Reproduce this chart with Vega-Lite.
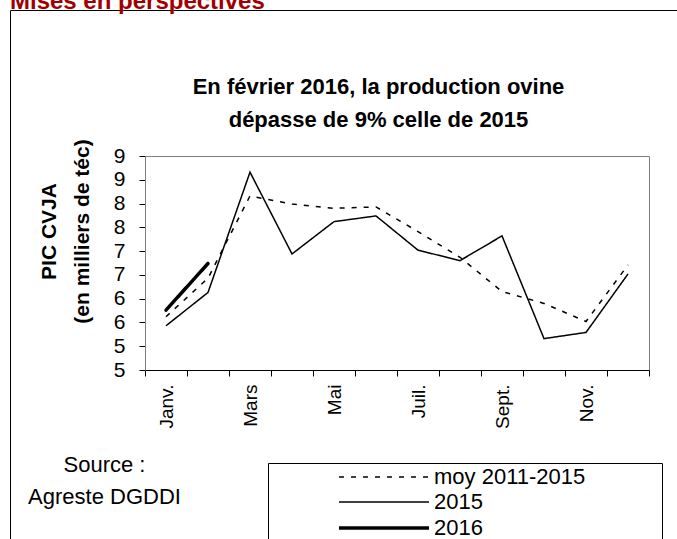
{
  "$schema": "https://vega.github.io/schema/vega-lite/v6.json",
  "width": 504,
  "height": 214,
  "autosize": {"type": "none"},
  "padding": {"left": 145, "top": 156, "right": 28, "bottom": 169},
  "background": "white",
  "title": {
    "text": "Mises en perspectives",
    "anchor": "start",
    "frame": "group",
    "dx": -135,
    "dy": 23,
    "offset": 0,
    "baseline": "alphabetic",
    "font": "Liberation Sans",
    "fontSize": 24,
    "fontWeight": "bold",
    "color": "#a00000"
  },
  "data": {
    "values": [
      {"mois": "Janv.", "serie": "moy 2011-2015", "valeur": 5.62},
      {"mois": "Févr.", "serie": "moy 2011-2015", "valeur": 6.43},
      {"mois": "Mars", "serie": "moy 2011-2015", "valeur": 8.16},
      {"mois": "Avr.", "serie": "moy 2011-2015", "valeur": 7.99},
      {"mois": "Mai", "serie": "moy 2011-2015", "valeur": 7.90},
      {"mois": "Juin", "serie": "moy 2011-2015", "valeur": 7.93},
      {"mois": "Juil.", "serie": "moy 2011-2015", "valeur": 7.41},
      {"mois": "Août", "serie": "moy 2011-2015", "valeur": 6.87},
      {"mois": "Sept.", "serie": "moy 2011-2015", "valeur": 6.15},
      {"mois": "Oct.", "serie": "moy 2011-2015", "valeur": 5.90},
      {"mois": "Nov.", "serie": "moy 2011-2015", "valeur": 5.52},
      {"mois": "Déc.", "serie": "moy 2011-2015", "valeur": 6.71},
      {"mois": "Janv.", "serie": "2015", "valeur": 5.43},
      {"mois": "Févr.", "serie": "2015", "valeur": 6.13},
      {"mois": "Mars", "serie": "2015", "valeur": 8.66},
      {"mois": "Avr.", "serie": "2015", "valeur": 6.94},
      {"mois": "Mai", "serie": "2015", "valeur": 7.62},
      {"mois": "Juin", "serie": "2015", "valeur": 7.74},
      {"mois": "Juil.", "serie": "2015", "valeur": 7.02},
      {"mois": "Août", "serie": "2015", "valeur": 6.80},
      {"mois": "Sept.", "serie": "2015", "valeur": 7.32},
      {"mois": "Oct.", "serie": "2015", "valeur": 5.16},
      {"mois": "Nov.", "serie": "2015", "valeur": 5.29},
      {"mois": "Déc.", "serie": "2015", "valeur": 6.52},
      {"mois": "Janv.", "serie": "2016", "valeur": 5.76},
      {"mois": "Févr.", "serie": "2016", "valeur": 6.74}
    ]
  },
  "resolve": {"axis": {"x": "independent"}},
  "layer": [
    {
      "transform": [{"filter": "datum.serie !== '2016'"}],
      "mark": {"type": "line", "color": "black"},
      "encoding": {
        "x": {
          "field": "mois",
          "type": "ordinal",
          "scale": {"type": "band", "domain": ["Janv.", "Févr.", "Mars", "Avr.", "Mai", "Juin", "Juil.", "Août", "Sept.", "Oct.", "Nov.", "Déc."], "paddingInner": 0, "paddingOuter": 0},
          "axis": {
            "orient": "bottom",
            "title": ["Source :", "Agreste DGDDI"],
            "titleX": -41,
            "titleY": 84,
            "titleAlign": "center",
            "titleAnchor": null,
            "titleBaseline": "top",
            "titleAngle": 0,
            "titleFont": "Liberation Sans",
            "titleFontSize": 22,
            "titleFontWeight": "normal",
            "titleLineHeight": 32,
            "titleColor": "black",
            "labelAngle": -90,
            "labelAlign": "right",
            "labelBaseline": "middle",
            "labelPadding": 8,
            "labelFont": "Liberation Sans",
            "labelFontSize": 19,
            "labelColor": "black",
            "labelOverlap": false,
            "labelExpr": "indexof(['Janv.','Mars','Mai','Juil.','Sept.','Nov.'], datum.value) >= 0 ? datum.value : ''",
            "tickBand": "extent",
            "tickSize": 6,
            "tickColor": "black",
            "domainColor": "black",
            "grid": false
          }
        },
        "y": {
          "field": "valeur",
          "type": "quantitative",
          "scale": {"domain": [4.5, 9], "nice": false, "zero": false},
          "axis": {
            "orient": "left",
            "values": [4.5, 5, 5.5, 6, 6.5, 7, 7.5, 8, 8.5, 9],
            "format": ".0f",
            "title": ["PIC CVJA", "(en milliers de téc)"],
            "titleX": -90,
            "titleY": 75,
            "titleAngle": 270,
            "titleAlign": "center",
            "titleBaseline": "alphabetic",
            "titleFont": "Liberation Sans",
            "titleFontSize": 21,
            "titleFontWeight": "bold",
            "titleLineHeight": 33,
            "titleColor": "black",
            "labelFont": "Liberation Sans",
            "labelFontSize": 21,
            "labelColor": "black",
            "labelPadding": 14,
            "labelOverlap": false,
            "labelFlush": false,
            "tickSize": 6,
            "tickColor": "black",
            "domainColor": "#808080",
            "grid": false
          }
        },
        "strokeDash": {
          "field": "serie",
          "type": "nominal",
          "scale": {"type": "ordinal", "domain": ["moy 2011-2015", "2015", "2016"], "range": [[5, 7], [1, 0], [1, 0]]},
          "legend": {"title": null}
        },
        "strokeWidth": {
          "field": "serie",
          "type": "nominal",
          "scale": {"type": "ordinal", "domain": ["moy 2011-2015", "2015", "2016"], "range": [1.5, 1.5, 3.5]},
          "legend": {"title": null}
        }
      }
    },
    {
      "transform": [{"filter": "datum.serie === '2016'"}],
      "mark": {"type": "line", "color": "black", "strokeCap": "round"},
      "encoding": {
        "x": {
          "field": "mois",
          "type": "ordinal",
          "scale": {"type": "band", "domain": ["Janv.", "Févr.", "Mars", "Avr.", "Mai", "Juin", "Juil.", "Août", "Sept.", "Oct.", "Nov.", "Déc."], "paddingInner": 0, "paddingOuter": 0},
          "axis": {
            "orient": "top",
            "title": ["En février 2016, la production ovine", "dépasse de 9% celle de 2015"],
            "titleX": 233,
            "titleY": -80,
            "titleAlign": "center",
            "titleAnchor": null,
            "titleBaseline": "top",
            "titleAngle": 0,
            "titleFont": "Liberation Sans",
            "titleFontSize": 22,
            "titleFontWeight": "bold",
            "titleLineHeight": 33,
            "titleColor": "black",
            "labels": false,
            "ticks": false,
            "domain": false,
            "grid": false
          }
        },
        "y": {
          "field": "valeur",
          "type": "quantitative",
          "scale": {"domain": [4.5, 9], "nice": false, "zero": false},
          "axis": {
            "orient": "left",
            "values": [4.5, 5, 5.5, 6, 6.5, 7, 7.5, 8, 8.5, 9],
            "format": ".0f",
            "title": ["PIC CVJA", "(en milliers de téc)"],
            "titleX": -90,
            "titleY": 75,
            "titleAngle": 270,
            "titleAlign": "center",
            "titleBaseline": "alphabetic",
            "titleFont": "Liberation Sans",
            "titleFontSize": 21,
            "titleFontWeight": "bold",
            "titleLineHeight": 33,
            "titleColor": "black",
            "labelFont": "Liberation Sans",
            "labelFontSize": 21,
            "labelColor": "black",
            "labelPadding": 14,
            "labelOverlap": false,
            "labelFlush": false,
            "tickSize": 6,
            "tickColor": "black",
            "domainColor": "#808080",
            "grid": false
          }
        },
        "strokeDash": {
          "field": "serie",
          "type": "nominal",
          "scale": {"type": "ordinal", "domain": ["moy 2011-2015", "2015", "2016"], "range": [[5, 7], [1, 0], [1, 0]]},
          "legend": {"title": null}
        },
        "strokeWidth": {
          "field": "serie",
          "type": "nominal",
          "scale": {"type": "ordinal", "domain": ["moy 2011-2015", "2015", "2016"], "range": [1.5, 1.5, 3.5]},
          "legend": {"title": null}
        },
        "opacity": {
          "field": "serie",
          "type": "nominal",
          "scale": {"type": "ordinal", "domain": ["2016"], "range": [1]},
          "legend": {
            "title": null,
            "orient": "none",
            "legendX": -135,
            "legendY": -146,
            "padding": 0,
            "strokeColor": "black",
            "symbolType": "M0,0M7,6",
            "symbolSize": 40000,
            "symbolOffset": 0,
            "labelExpr": "''",
            "labelOffset": 0
          }
        }
      }
    }
  ],
  "config": {
    "font": "Liberation Sans",
    "view": {"stroke": "#808080", "strokeWidth": 1},
    "legend": {
      "orient": "none",
      "legendX": 123,
      "legendY": 307,
      "direction": "vertical",
      "padding": 2,
      "strokeColor": "black",
      "symbolType": "M-4.09,0H4.09M24.4,0",
      "symbolSize": 484,
      "symbolOffset": 101,
      "symbolStrokeColor": "black",
      "symbolFillColor": "transparent",
      "labelOffset": 37,
      "labelFont": "Liberation Sans",
      "labelFontSize": 22,
      "labelColor": "black",
      "labelLimit": 500
    }
  }
}
